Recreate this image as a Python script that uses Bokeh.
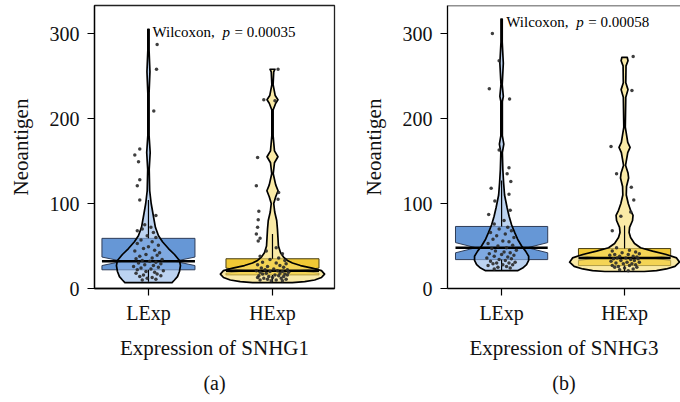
import numpy as np
from bokeh.plotting import figure
from bokeh.models import Range1d, FixedTicker, Title, Span, ColumnDataSource
from bokeh.layouts import row
from bokeh.embed import file_html
from bokeh.resources import INLINE
from bokeh.core.properties import value

# ---------------- data ----------------
categories = ["LExp", "HExp"]
cat_pos = [1, 2]
genes = ["SNHG1", "SNHG3"]
p_values = ["0.00035", "0.00058"]
panel_tags = ["(a)", "(b)"]
y_ticks = [0, 100, 200, 300]

# box stats: q1, notch_lo, median, notch_hi, q3, whisker_lo, whisker_hi
box_a_L = [22, 27, 32, 37, 59, 8, 104]
box_a_H = [16, 18, 21, 24, 35, 7, 64]
box_b_L = [34, 42, 48, 54, 73, 21, 127]
box_b_H = [27, 33, 36, 39, 47, 20, 74]

# violin profiles (value, half width in category units)
vio_a_L_y = [7, 10, 14, 20, 27, 33, 40, 47, 55, 62, 72, 85, 100, 115, 140, 160, 180, 230, 255, 280, 305]
vio_a_L_w = [0.19, 0.21, 0.234, 0.25, 0.258, 0.25, 0.21, 0.161, 0.113, 0.081, 0.056, 0.04, 0.022,
             0.01, 0.006, 0.014, 0.005, 0.005, 0.012, 0.005, 0.005]
vio_a_H_y = [7, 8, 10, 13, 17, 21, 24, 27, 30, 33, 37, 42, 50, 60, 70, 80, 90, 100, 108, 115, 122,
             135, 148, 155, 162, 180, 210, 218, 222, 227, 240, 255, 258]
vio_a_H_w = [0.16, 0.26, 0.34, 0.395, 0.42, 0.395, 0.32, 0.226, 0.161, 0.12, 0.089, 0.065, 0.048,
             0.044, 0.04, 0.034, 0.018, 0.01, 0.026, 0.045, 0.026, 0.006, 0.016, 0.044, 0.016,
             0.005, 0.005, 0.026, 0.044, 0.022, 0.005, 0.01, 0.02]
vio_b_L_y = [21, 24, 28, 33, 38, 44, 50, 58, 66, 75, 85, 95, 110, 125, 140, 160, 170, 180, 220, 226,
             240, 265, 290, 317]
vio_b_L_w = [0.13, 0.171, 0.203, 0.22, 0.22, 0.195, 0.163, 0.13, 0.106, 0.081, 0.061, 0.045, 0.024,
             0.016, 0.01, 0.006, 0.018, 0.006, 0.006, 0.014, 0.005, 0.014, 0.005, 0.005]
vio_b_H_y = [20, 21, 23, 26, 31, 36, 40, 44, 48, 53, 60, 66, 72, 80, 86, 92, 100, 110, 120, 130, 136,
             145, 160, 166, 172, 190, 225, 234, 242, 262, 268, 272]
vio_b_H_w = [0.16, 0.26, 0.34, 0.41, 0.447, 0.423, 0.34, 0.228, 0.13, 0.081, 0.049, 0.037, 0.041,
             0.065, 0.069, 0.049, 0.03, 0.014, 0.016, 0.033, 0.028, 0.008, 0.026, 0.045, 0.026,
             0.006, 0.01, 0.028, 0.01, 0.012, 0.028, 0.022]

# jittered points: value and horizontal jitter (category units)
pts_a_L_y = [287, 258, 209, 164, 157, 149, 128, 121, 104, 86, 68, 75, 72, 70, 66, 62, 60, 57, 55, 53,
             51, 49, 47, 45, 44, 42, 40, 39, 38, 36, 35, 34, 33, 32, 31, 30, 29, 28, 27, 26, 25, 24,
             23, 22, 21, 20, 19, 18, 17, 16, 15, 14, 13, 12, 11, 10]
pts_a_L_dx = [0.07, 0.065, 0.043, -0.07, -0.11, -0.08, -0.07, -0.09, -0.07, 0.06, -0.09, -0.03, 0.02,
              -0.05, 0.04, -0.01, 0.06, -0.06, 0.03, -0.09, 0.08, 0.0, -0.04, 0.05, -0.11, 0.09,
              -0.02, 0.07, -0.07, 0.03, -0.1, 0.11, -0.05, 0.01, 0.06, -0.08, 0.1, -0.03, 0.04,
              -0.12, 0.08, -0.06, 0.02, -0.09, 0.12, -0.02, 0.05, -0.1, 0.07, -0.04, 0.1, -0.07,
              0.03, -0.01, 0.06, -0.05]
pts_a_H_y = [258, 222, 221, 154, 121, 113, 105, 91, 81, 72, 64, 56, 59, 48, 44, 41, 38, 36, 34, 33,
             31, 30, 29, 28, 27, 26, 25, 24, 23, 22, 22, 21, 21, 20, 20, 19, 19, 18, 18, 17, 17, 16,
             16, 15, 15, 14, 14, 13, 13, 12, 12, 11, 11, 10, 10, 9, 9]
pts_a_H_dx = [0.045, -0.07, 0.02, -0.12, -0.13, 0.05, 0.045, -0.11, -0.115, -0.12, -0.13, -0.115,
              -0.1, 0.03, -0.05, 0.08, -0.1, 0.05, -0.02, 0.1, -0.08, 0.03, 0.11, -0.12, 0.06, -0.04,
              0.09, -0.09, 0.01, 0.12, -0.06, 0.04, -0.13, 0.08, -0.02, 0.13, -0.1, 0.06, -0.05, 0.1,
              -0.08, 0.02, 0.12, -0.11, 0.05, -0.03, 0.09, -0.12, 0.0, 0.07, -0.07, 0.11, -0.04,
              0.03, -0.1, 0.08, -0.01]
pts_b_L_y = [300, 268, 235, 223, 163, 142, 135, 126, 118, 111, 103, 92, 87, 80, 76, 72, 70, 68, 66,
             64, 62, 60, 58, 56, 55, 53, 51, 50, 48, 47, 45, 44, 43, 42, 41, 40, 39, 38, 37, 36, 35,
             34, 33, 32, 31, 30, 30, 29, 28, 28, 27, 26, 25, 24, 23]
pts_b_L_dx = [-0.075, -0.02, -0.1, 0.065, -0.02, 0.06, 0.045, 0.075, -0.085, 0.06, -0.055, 0.07,
              -0.105, 0.02, -0.06, 0.05, -0.02, 0.08, -0.09, 0.03, -0.04, 0.1, -0.07, 0.01, 0.06,
              -0.11, 0.09, -0.03, 0.04, -0.08, 0.12, -0.05, 0.02, 0.07, -0.1, 0.0, 0.1, -0.06, 0.05,
              -0.12, 0.08, -0.02, 0.03, -0.09, 0.11, -0.04, 0.06, -0.07, 0.01, 0.09, -0.11, 0.04,
              -0.03, 0.07, -0.06]
pts_b_H_y = [273, 233, 167, 135, 119, 104, 90, 85, 68, 48, 45, 44, 43, 42, 41, 40, 40, 39, 38, 38,
             37, 36, 36, 35, 35, 34, 33, 33, 32, 31, 31, 30, 29, 29, 28, 27, 27, 26, 25, 25, 24, 23,
             22, 21]
pts_b_H_dx = [0.07, 0.06, -0.11, -0.065, 0.055, 0.075, 0.05, -0.03, -0.1, -0.065, 0.04, -0.1, 0.09,
              -0.02, 0.12, -0.08, 0.03, -0.12, 0.07, -0.04, 0.1, -0.06, 0.01, 0.11, -0.09, 0.05,
              -0.03, 0.08, -0.11, 0.02, 0.12, -0.07, 0.06, -0.01, 0.09, -0.1, 0.04, -0.05, 0.1,
              -0.08, 0.0, 0.07, -0.04, 0.03]

panels = [
    dict(gene=genes[0], p=p_values[0], tag=panel_tags[0],
         boxes=[box_a_L, box_a_H],
         vios=[(vio_a_L_y, vio_a_L_w), (vio_a_H_y, vio_a_H_w)],
         pts=[(pts_a_L_y, pts_a_L_dx), (pts_a_H_y, pts_a_H_dx)],
         xr=(0.565, 2.5), width=340, bl=94, br=6, txt=(1.032, 301.5), outline=True),
    dict(gene=genes[1], p=p_values[1], tag=panel_tags[1],
         boxes=[box_b_L, box_b_H],
         vios=[(vio_b_L_y, vio_b_L_w), (vio_b_H_y, vio_b_H_w)],
         pts=[(pts_b_L_y, pts_b_L_dx), (pts_b_H_y, pts_b_H_dx)],
         xr=(0.56, 2.455), width=340, bl=107, br=0, txt=(1.038, 313.0), outline=False),
]

box_fill = ["#6697d6", "#f1c935"]
box_line = ["#2f3d58", "#4a3f12"]
vio_fill = ["#8fb6e8", "#f6dc6a"]
FONT = "Liberation Serif"
Y_TOP = 333
half_box = 0.375
notch_half = 0.21

figs = []
for P in panels:
    p = figure(width=P["width"], height=402, output_backend="svg", toolbar_location=None,
               x_range=Range1d(*P["xr"]), y_range=Range1d(0, Y_TOP),
               min_border_left=P["bl"], min_border_right=P["br"], min_border_top=5,
               min_border_bottom=114)
    p.xgrid.visible = False
    p.ygrid.visible = False
    p.background_fill_color = "white"
    p.border_fill_color = "white"
    if P["outline"]:
        p.outline_line_color = "#222222"
        p.outline_line_width = 1.3
    else:
        p.outline_line_color = None
        p.add_layout(Span(location=Y_TOP, dimension="width", line_color="#222222", line_width=1.3))

    for i in range(2):
        c = cat_pos[i]
        q1, nlo, med, nhi, q3, wlo, whi = P["boxes"][i]
        bx = [c - half_box, c + half_box, c + half_box, c + notch_half, c + half_box, c + half_box,
              c - half_box, c - half_box, c - notch_half, c - half_box]
        by = [q1, q1, nlo, med, nhi, q3, q3, nhi, med, nlo]
        p.patch(bx, by, fill_color=box_fill[i], line_color=box_line[i], line_width=1)

        vy, vw = P["vios"][i]
        vy = np.array(vy, dtype=float)
        vw = np.array(vw, dtype=float)
        xs = np.concatenate([c + vw, (c - vw)[::-1]])
        ys = np.concatenate([vy, vy[::-1]])
        p.patch(xs, ys, fill_color=vio_fill[i], fill_alpha=0.6, line_color="black", line_width=1.7,
                line_join="round")

        p.segment(x0=[c, c], y0=[q3, q1], x1=[c, c], y1=[whi, wlo], line_color="black", line_width=1.2)
        p.segment(x0=[c - half_box], y0=[med], x1=[c + half_box], y1=[med], line_color="black",
                  line_width=2.5)

        py, pdx = P["pts"][i]
        src = ColumnDataSource(dict(x=[c + d for d in pdx], y=py))
        p.scatter("x", "y", source=src, size=3.5, fill_color="#2a2a2a", line_color=None, alpha=0.9)

    tx, ty = P["txt"]
    p.text(x=[tx], y=[ty], text=["Wilcoxon,"], text_font=value(FONT), text_font_size="15px",
           text_baseline="alphabetic", text_color="black")
    p.text(x=[tx], y=[ty], text=["p"], x_offset=70, text_font=value(FONT), text_font_size="15px",
           text_font_style="italic", text_baseline="alphabetic", text_color="black")
    p.text(x=[tx], y=[ty], text=["= " + P["p"]], x_offset=82, text_font=value(FONT),
           text_font_size="15px", text_baseline="alphabetic", text_color="black")

    p.yaxis.ticker = FixedTicker(ticks=y_ticks)
    p.xaxis.ticker = FixedTicker(ticks=cat_pos)
    p.xaxis.major_label_overrides = {cat_pos[0]: categories[0], cat_pos[1]: categories[1]}
    for ax in (p.xaxis, p.yaxis):
        ax.axis_line_color = "black"
        ax.axis_line_width = 1.3
        ax.major_tick_line_color = "black"
        ax.major_tick_line_width = 1.2
        ax.major_tick_out = 7
        ax.major_tick_in = 0
        ax.minor_tick_line_color = None
        ax.major_label_text_font = FONT
        ax.major_label_text_font_size = "20px"
        ax.major_label_text_color = "#111111"
        ax.axis_label_text_font = FONT
        ax.axis_label_text_font_size = "21px"
        ax.axis_label_text_font_style = "normal"
        ax.axis_label_text_color = "#111111"
    p.yaxis.major_label_standoff = 8
    p.yaxis.axis_label = "Neoantigen"
    p.yaxis.axis_label_standoff = 14
    p.xaxis.major_label_standoff = 6
    p.xaxis.axis_label = "Expression of " + P["gene"]
    p.xaxis.axis_label_standoff = 9
    p.add_layout(Title(text=P["tag"], align="center", text_font=FONT, text_font_size="20px",
                       text_font_style="normal", text_color="#111111", standoff=14), "below")
    figs.append(p)

layout = row(*figs)
open("out.html", "w").write(file_html(layout, INLINE))
